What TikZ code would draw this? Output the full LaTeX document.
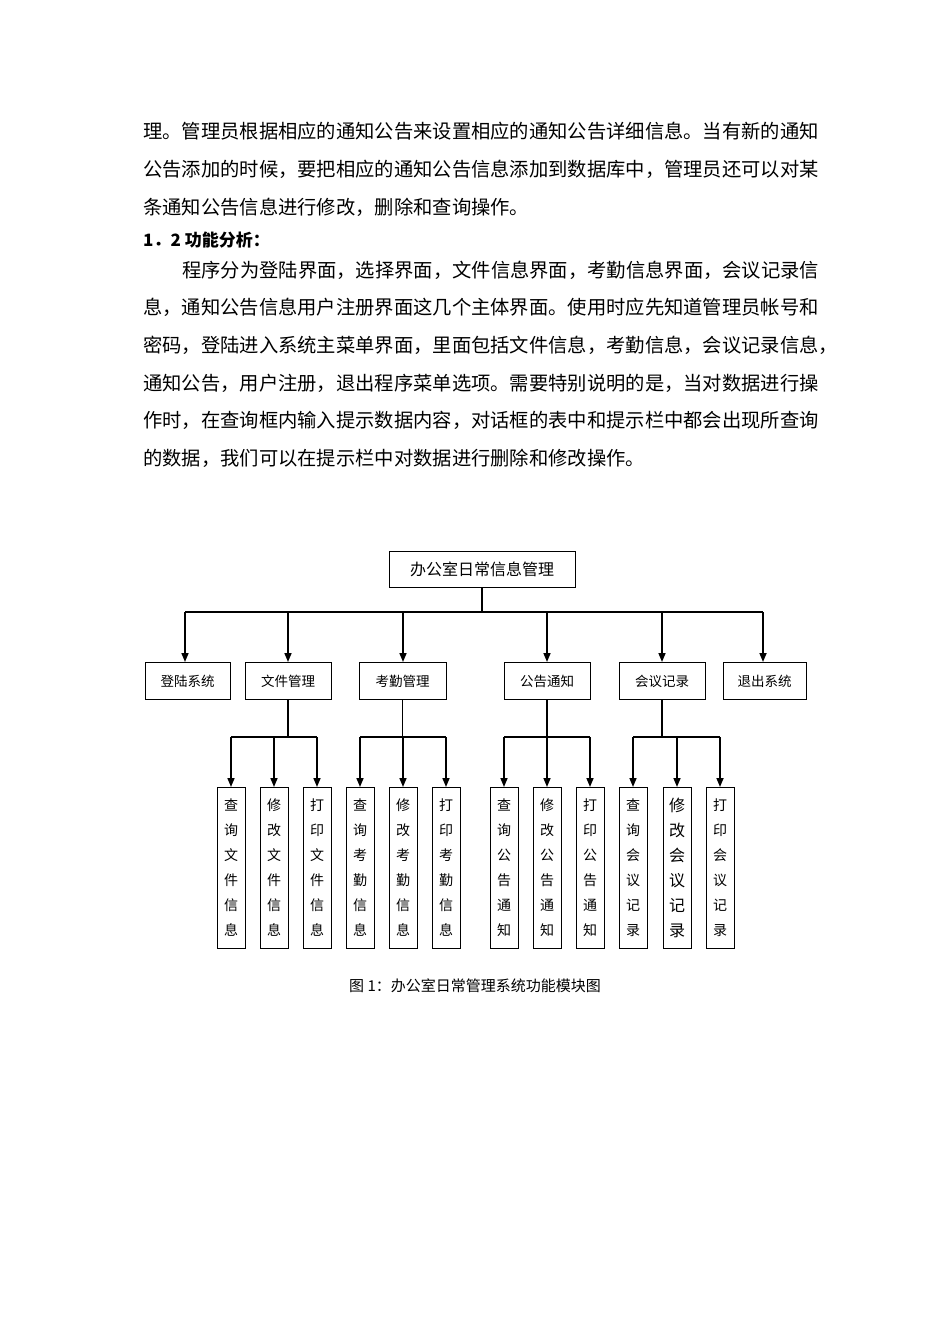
\documentclass[tikz,border=0pt]{standalone}
\usepackage{fontspec}
\setmainfont{Noto Sans CJK SC}
\usetikzlibrary{arrows.meta}
\begin{document}
\begin{tikzpicture}[x=1pt,y=-1pt,
  para/.style={anchor=west,inner sep=0pt,font=\fontsize{19.3}{20}\selectfont},
  topbox/.style={draw,line width=1pt,minimum width=186pt,minimum height=36pt,font=\fontsize{16}{18}\selectfont},
  midbox/.style={draw,line width=1pt,minimum height=37pt,font=\fontsize{13.5}{16}\selectfont},
  leaf/.style={draw,line width=1pt,minimum width=28pt,minimum height=161pt,inner sep=0pt,font=\fontsize{14}{25}\selectfont,align=center},
  wire/.style={line width=1.2pt},
  arr/.style={line width=1.6pt,-{Triangle[width=7pt,length=9pt]}}]
\useasboundingbox (0,0) rectangle (950,1344);
\node[para] (l1) at (143,131) {理。管理员根据相应的通知公告来设置相应的通知公告详细信息。当有新的通知};
\node[para] (l2) at (143,169) {公告添加的时候，要把相应的通知公告信息添加到数据库中，管理员还可以对某};
\node[para] (l3) at (143,207) {条通知公告信息进行修改，删除和查询操作。};
\node[para,font=\fontsize{17}{18}\selectfont\bfseries] (l4) at (143,240) {1．2 功能分析：};
\node[para] (l5) at (182,270) {程序分为登陆界面，选择界面，文件信息界面，考勤信息界面，会议记录信};
\node[para] (l6) at (143,307) {息，通知公告信息用户注册界面这几个主体界面。使用时应先知道管理员帐号和};
\node[para] (l7) at (143,345) {密码，登陆进入系统主菜单界面，里面包括文件信息，考勤信息，会议记录信息，};
\node[para] (l8) at (143,383) {通知公告，用户注册，退出程序菜单选项。需要特别说明的是，当对数据进行操};
\node[para] (l9) at (143,420) {作时，在查询框内输入提示数据内容，对话框的表中和提示栏中都会出现所查询};
\node[para] (l10) at (143,458) {的数据，我们可以在提示栏中对数据进行删除和修改操作。};

\node[topbox] (root) at (482,569) {办公室日常信息管理};
\node[midbox,minimum width=85pt] (m1) at (187.5,681) {登陆系统};
\node[midbox,minimum width=86pt] (m2) at (288,681) {文件管理};
\node[midbox,minimum width=87pt] (m3) at (402.5,681) {考勤管理};
\node[midbox,minimum width=86pt] (m4) at (547,681) {公告通知};
\node[midbox,minimum width=86pt] (m5) at (662,681) {会议记录};
\node[midbox,minimum width=83pt] (m6) at (764.5,681) {退出系统};
\coordinate (rb) at (482,612);
\draw[wire] (root.south) -- (rb);
\draw[wire] (185,612) -- (763,612);
\foreach \m/\x in {m1/185,m2/288,m3/403,m4/547,m5/662,m6/763}
  \draw[arr] (\x,612) -- (\x,662);

\foreach \n/\x/\t in {
  a1/231/查\\询\\文\\件\\信\\息, a2/274/修\\改\\文\\件\\信\\息, a3/317/打\\印\\文\\件\\信\\息,
  b1/360/查\\询\\考\\勤\\信\\息, b2/403/修\\改\\考\\勤\\信\\息, b3/446/打\\印\\考\\勤\\信\\息,
  c1/504/查\\询\\公\\告\\通\\知, c2/547/修\\改\\公\\告\\通\\知, c3/590/打\\印\\公\\告\\通\\知,
  d1/633/查\\询\\会\\议\\记\\录, d3/720/打\\印\\会\\议\\记\\录}
  \node[leaf] (\n) at (\x,868) {\t};
\node[leaf,font=\fontsize{16}{25}\selectfont] (d2) at (677,868) {修\\改\\会\\议\\记\\录};

\foreach \m/\p/\q/\r in {m2/a1/a2/a3,m3/b1/b2/b3,m4/c1/c2/c3,m5/d1/d2/d3}{
  \coordinate (j\m) at (\m.south |- 0,737);
  \draw[wire] (\m.south) -- (j\m);
  \draw[wire] (\p.north |- 0,737) -- (\r.north |- 0,737);
  \foreach \c in {\p,\q,\r} \draw[arr] (\c.north |- 0,737) -- (\c.north);
}
\node[font=\fontsize{15}{18}\selectfont] (cap) at (475,986) {图 1：办公室日常管理系统功能模块图};
\end{tikzpicture}
\end{document}
